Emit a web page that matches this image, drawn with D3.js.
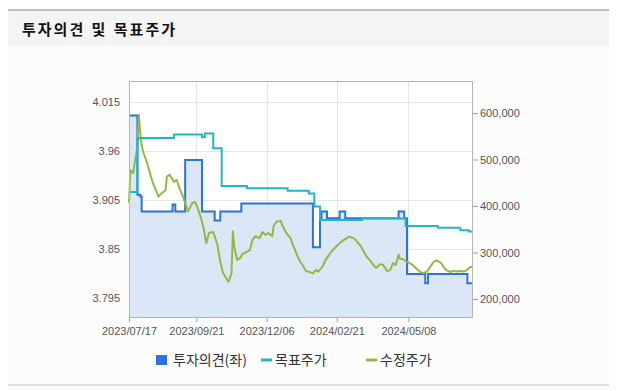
<!DOCTYPE html>
<html>
<head lang="ko">
    <meta charset="UTF-8">
    <title>투자의견 및 목표주가</title>
    <script src="https://cdn.jsdelivr.net/npm/d3@7"></script>
    <style>
        body{margin:0;background:#fff;font-family:'Noto Sans CJK KR','Noto Sans',sans-serif;}
        .axis text{font-size:11px;fill:#555;}
    </style>
</head>
<body>
<div id="tu1" style="width:619px;height:391px;"></div>
</body>
</html>
<script>
    // x = trading day count from 2023/07/17
    var tickDays=[0,48,98,148,199];
    var tickLabels=['2023/07/17','2023/09/21','2023/12/06','2024/02/21','2024/05/08'];
    var lastDay=245;

    var leftTicks=[3.795,3.85,3.905,3.96,4.015];
    var rightTicks=[200000,300000,400000,500000,600000];

    // 투자의견 (left axis), step series
    var opinionDay=[0,6,8,9,31,33,40,52,61,65,80,131,136,137,141,150,154,192,196,198,211,213,241,245];
    var opinion=[4.0,3.911,3.909,3.892,3.9,3.892,3.95,3.892,3.882,3.892,3.901,3.852,3.884,3.892,3.8845,3.892,3.8845,3.892,3.8845,3.822,3.8115,3.822,3.8115,3.8115];

    // 목표주가 (right axis), step series
    var targetDay=[0,6,32,52,54,60,66,84,113,128,132,136,166,197,220,236,242,245];
    var target=[430000,546000,554000,548000,556000,524000,443000,438000,433000,427000,399000,370000,373000,357000,353000,348000,345000,345000];

    // 수정주가 (right axis)
    var priceDay=[0,1,3,4,6,7,8,9,10,13,15,17,21,23,26,27,29,32,34,36,38,41,42,45,47,49,51,53,55,57,
        60,63,65,67,70,71,73,74,75,77,79,81,84,86,88,90,93,95,97,99,102,103,105,108,110,112,115,117,120,122,
        124,126,129,131,133,135,138,140,143,145,148,150,152,155,157,160,162,165,167,169,172,174,176,179,181,184,186,188,190,192,
        193,195,198,200,202,204,207,209,212,214,217,219,222,224,226,229,231,233,236,238,240,243,245];
    var price=[407000,477000,471000,492000,527000,596000,557000,531000,517000,492000,470000,449000,420000,427000,434000,463000,467000,452000,456000,438000,
        424000,398000,388000,406000,409000,395000,377000,355000,320000,342000,
        344000,316000,280000,256000,241000,237000,256000,345000,312000,284000,288000,297000,302000,305000,327000,335000,331000,344000,338000,342000,
        335000,357000,366000,368000,353000,342000,331000,314000,292000,280000,
        271000,260000,258000,255000,262000,259000,271000,284000,297000,305000,314000,320000,325000,331000,334000,331000,325000,314000,303000,292000,
        282000,273000,267000,275000,273000,260000,262000,277000,273000,295000,
        286000,286000,280000,277000,273000,267000,259000,256000,258000,267000,280000,283000,278000,269000,262000,258000,261000,259000,260000,259000,
        261000,269000,269000];

    var legendNames=['투자의견(좌)','목표주가','수정주가'];
    var legendColors=['#2b74db','#1fb6cc','#8fbb45'];

    function drawChart(divname){
        var W=619,H=391;
        var plot={left:129,top:81,width:344,height:236};
        var svg=d3.select('#'+divname).append('svg')
                .attr('width',W)
                .attr('height',H);

        // panel + header
        svg.append('rect').attr('x',8).attr('y',10).attr('width',601).attr('height',375).attr('fill','#fcfcfc');
        svg.append('rect').attr('x',8).attr('y',10).attr('width',601).attr('height',36).attr('fill','#f4f4f4');
        svg.append('line').attr('x1',8).attr('x2',609).attr('y1',10).attr('y2',10).attr('stroke','#bdbdbd').attr('stroke-width',2);
        svg.append('line').attr('x1',8).attr('x2',609).attr('y1',385).attr('y2',385).attr('stroke','#d5d5d5').attr('stroke-width',1.5);
        svg.append('text')
                .attr('x',22).attr('y',35)
                .attr('font-size','15px').attr('font-weight','bold').attr('fill','#111')
                .attr('letter-spacing','2px').attr('word-spacing','1px')
                .text('투자의견 및 목표주가');

        var x=d3.scaleLinear().domain([0,lastDay]).range([0,plot.width]);
        var yL=d3.scaleLinear().domain([3.7737,4.0386]).range([plot.height,0]);
        var yR=d3.scaleLinear().domain([161300,668800]).range([plot.height,0]);

        var g=svg.append('g').attr('transform','translate('+plot.left+','+plot.top+')');
        g.append('rect').attr('width',plot.width).attr('height',plot.height).attr('fill','#fff');

        // grid
        g.selectAll('.hgrid').data(leftTicks).enter().append('line')
                .attr('x1',0).attr('x2',plot.width)
                .attr('y1',function(d){return Math.round(yL(d))+0.5})
                .attr('y2',function(d){return Math.round(yL(d))+0.5})
                .attr('stroke','#e6e6e6');
        g.selectAll('.vgrid').data(tickDays).enter().append('line')
                .attr('y1',0).attr('y2',plot.height)
                .attr('x1',function(d){return Math.round(x(d))+0.5})
                .attr('x2',function(d){return Math.round(x(d))+0.5})
                .attr('stroke','#e6e6e6');

        var opData=opinionDay.map(function(d,i){return [d,opinion[i]]});
        var tgData=targetDay.map(function(d,i){return [d,target[i]]});
        var prData=priceDay.map(function(d,i){return [d,price[i]]});

        g.append('path').datum(opData)
                .attr('fill','#dbe6f7')
                .attr('d',d3.area().curve(d3.curveStepAfter)
                        .x(function(d){return x(d[0])})
                        .y0(plot.height)
                        .y1(function(d){return yL(d[1])}));
        g.append('path').datum(opData)
                .attr('fill','none').attr('stroke',legendColors[0]).attr('stroke-width',2)
                .attr('d',d3.line().curve(d3.curveStepAfter)
                        .x(function(d){return x(d[0])})
                        .y(function(d){return yL(d[1])}));
        g.append('path').datum(prData)
                .attr('fill','none').attr('stroke',legendColors[2]).attr('stroke-width',2)
                .attr('stroke-linejoin','round')
                .attr('d',d3.line()
                        .x(function(d){return x(d[0])})
                        .y(function(d){return yR(d[1])}));
        g.append('path').datum(tgData)
                .attr('fill','none').attr('stroke',legendColors[1]).attr('stroke-width',2)
                .attr('d',d3.line().curve(d3.curveStepAfter)
                        .x(function(d){return x(d[0])})
                        .y(function(d){return yR(d[1])}));

        // frame
        g.append('rect').attr('x',0.5).attr('y',0.5).attr('width',plot.width-1).attr('height',plot.height)
                .attr('fill','none').attr('stroke','#b5b5b5');

        // axes
        var bottom=g.append('g').attr('class','axis').attr('transform','translate(0,'+plot.height+')')
                .call(d3.axisBottom(x).tickValues(tickDays).tickSize(5).tickPadding(5)
                        .tickFormat(function(d,i){return tickLabels[i]}));
        var left=g.append('g').attr('class','axis')
                .call(d3.axisLeft(yL).tickValues(leftTicks).tickSize(0).tickPadding(9)
                        .tickFormat(function(d){return String(d)}));
        var right=g.append('g').attr('class','axis').attr('transform','translate('+plot.width+',0)')
                .call(d3.axisRight(yR).tickValues(rightTicks).tickSize(5).tickPadding(2)
                        .tickFormat(d3.format(',')));
        [bottom,left,right].forEach(function(a){
            a.select('.domain').remove();
            a.selectAll('.tick line').attr('stroke','#a0a0a0');
        });

        // legend
        var leg=svg.selectAll('.leg').data(legendNames).enter().append('g')
                .attr('transform',function(d,i){return 'translate('+(156+i*105)+',360)'});
        leg.each(function(d,i){
            var s=d3.select(this);
            if(i===0){
                s.append('rect').attr('x',0).attr('y',-5).attr('width',11).attr('height',10).attr('fill',legendColors[i]);
            }else{
                s.append('rect').attr('x',0).attr('y',-1.5).attr('width',11).attr('height',3).attr('fill',legendColors[i]);
            }
            s.append('text').attr('x',i===0?17:14).attr('y',5)
                    .attr('font-size','14px').attr('fill','#333')
                    .text(d);
        });
    }
    drawChart('tu1');
</script>
